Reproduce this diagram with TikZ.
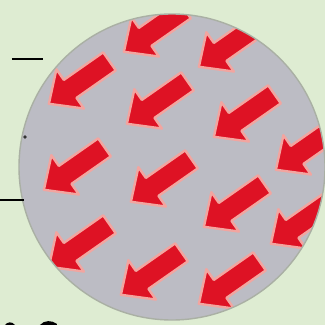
\documentclass[tikz,border=0pt]{standalone}
\definecolor{bg}{RGB}{222,236,210}
\definecolor{disc}{RGB}{188,188,196}
\definecolor{discedge}{RGB}{170,176,164}
\definecolor{arrowred}{RGB}{222,18,36}
\definecolor{glow}{RGB}{242,165,160}
\tikzset{
  redarrow/.pic={
    \filldraw[fill=arrowred, draw=glow, line width=2.4pt, line join=round]
      (-36,-11) -- (12,-11) -- (12,-24) -- (38,0) -- (12,24) -- (12,11) -- (-36,11) -- cycle;
  },
  dash mark/.style={line width=2.6pt, black}
}
\begin{document}
\begin{tikzpicture}[x=1pt,y=1pt]
\fill[bg] (0,0) rectangle (325,325);
\useasboundingbox (0,0) rectangle (325,325);
% disc (y-up coords: y = 325 - image y)
\fill[disc] (172,158) circle[radius=153];
\begin{scope}
\clip (172,158) circle[radius=153];
\foreach \x/\y in {155/30, 230/45, 80/82, 158/102, 245/115, 307/148,
                   75/168, 162/180, 235/205, 302/222,
                   80/245, 152/273, 230/282}{
  \pic[rotate=215] at (\x,325-\y) {redarrow};
}
\end{scope}
\draw[discedge, line width=1.4pt] (172,158) circle[radius=153];
% black marks on the left
\draw[dash mark] (12,266) -- (43,266);
\draw[dash mark] (0,125) -- (24,125);
\fill[black!80] (25,188) circle[radius=1.8];
% cropped glyph tops at the bottom left
\fill[black] (5,0) .. controls (7,3) and (12,4) .. (15,0) -- cycle;
\fill[black] (40,0) .. controls (44,5) and (52,5) .. (57,1) -- (57,0) -- cycle;
\end{tikzpicture}
\end{document}
